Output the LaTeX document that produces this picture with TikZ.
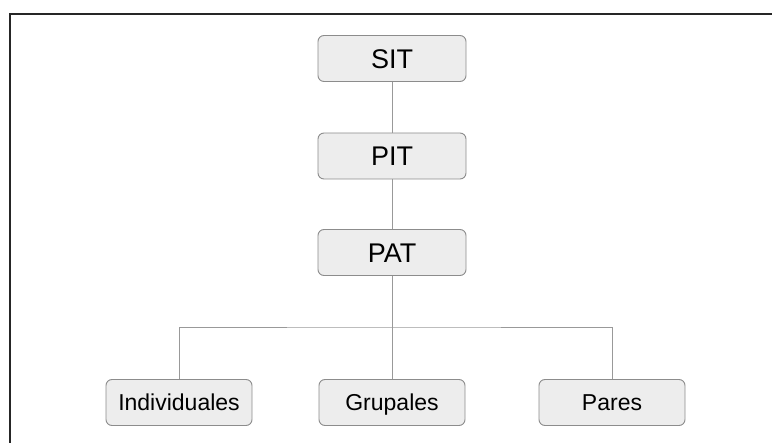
\documentclass[tikz,border=0pt]{standalone}
\usepackage{fontspec}
\setmainfont{Liberation Sans}
\usepackage{tikz}

\begin{document}
\begin{tikzpicture}[x=1pt,y=-1pt]
  \tikzset{box/.style = {draw=black!45,line width=0.9pt,fill=black!7,rounded corners=6pt,minimum width=148pt,minimum height=46pt,inner sep=0pt,text height=19.3pt,text depth=0pt,font=\fontsize{27}{29}\selectfont}}
  \tikzset{leaf/.style = {box,minimum width=146pt,text height=16.5pt,font=\fontsize{23}{25}\selectfont}}
  \tikzset{link/.style = {draw=black!40,line width=0.9pt}}

\useasboundingbox (0,0) rectangle (772,443);
\draw[black!85, line width=1.4pt] (772,14) -- (10,14) -- (10,443);

\node[box] (sit)  at (392,58.5) {SIT};
\node[box] (pit)  at (392,156) {PIT};
\node[box] (pat)  at (392,252.5) {PAT};
\node[leaf] (ind)  at (179,402.5) {Individuales};
\node[leaf] (grup) at (392,402.5) {Grupales};
\node[leaf] (par)  at (612,402.5) {Pares};
\coordinate (split) at (392,327);

    \path[link] (sit) -- (pit);
    \path[link] (pit) -- (pat);
    \path[link] (pat) -- (grup);
%   branches to the side boxes
    \path[link] (ind) |- (split) -| (par);

\end{tikzpicture}
\end{document}
